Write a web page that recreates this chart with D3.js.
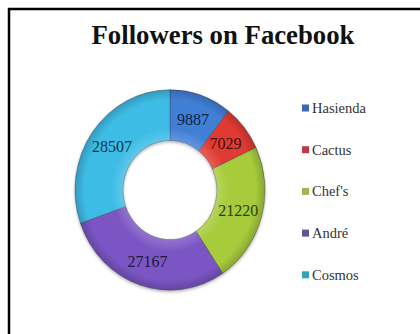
<!DOCTYPE html>
<html>
<head>
<meta charset="utf-8">
<script src="https://cdn.jsdelivr.net/npm/d3@7"></script>
<style>
  html, body { margin: 0; padding: 0; background: #fff; }
  svg { display: block; }
</style>
</head>
<body>
<svg id="chart" width="420" height="334"></svg>
<script>
// Followers per restaurant page
const categories = ["Hasienda", "Cactus", "Chef's", "André", "Cosmos"];
const followers = [9887, 7029, 21220, 27167, 28507];
const sliceColors = ["#3f7fd6", "#e03b33", "#a7cb3b", "#7a55c3", "#3dbce6"];
const legendColors = ["#3d68b4", "#c03a46", "#a3b553", "#5c5a8c", "#33a3b6"];
const title = "Followers on Facebook";

const serif = "\"Liberation Serif\", \"Times New Roman\", serif";

const svg = d3.select("#chart");

// frame (top and left edges)
svg.append("line").attr("x1", 8).attr("y1", 9).attr("x2", 420).attr("y2", 9)
  .attr("stroke", "#000").attr("stroke-width", 2.5);
svg.append("line").attr("x1", 9).attr("y1", 8).attr("x2", 9).attr("y2", 334)
  .attr("stroke", "#000").attr("stroke-width", 2.5);

// title
svg.append("text")
  .attr("x", 223).attr("y", 44)
  .attr("text-anchor", "middle")
  .style("font-family", serif)
  .style("font-weight", "bold")
  .style("font-size", "27px")
  .attr("textLength", 263)
  .attr("lengthAdjust", "spacingAndGlyphs")
  .attr("fill", "#111")
  .text(title);

const data = categories.map((c, i) => ({ name: c, value: followers[i], color: sliceColors[i], legend: legendColors[i] }));

const pie = d3.pie().value(d => d.value).sort(null);
const outerR = 95, innerR = 47;
const arc = d3.arc().innerRadius(innerR).outerRadius(outerR);
const labelArc = d3.arc().innerRadius(71).outerRadius(71);

const defs = svg.append("defs");
// soft bevel highlight on each ring segment
const bevel = defs.append("radialGradient")
  .attr("id", "bevel").attr("gradientUnits", "userSpaceOnUse")
  .attr("cx", 0).attr("cy", 0).attr("r", outerR);
bevel.append("stop").attr("offset", innerR / outerR).attr("stop-color", "#fff").attr("stop-opacity", 0.18);
bevel.append("stop").attr("offset", 0.62).attr("stop-color", "#fff").attr("stop-opacity", 0.0);
bevel.append("stop").attr("offset", 0.9).attr("stop-color", "#000").attr("stop-opacity", 0.0);
bevel.append("stop").attr("offset", 1).attr("stop-color", "#000").attr("stop-opacity", 0.18);

const shadow = defs.append("filter").attr("id", "shadow")
  .attr("x", "-20%").attr("y", "-20%").attr("width", "140%").attr("height", "140%");
shadow.append("feDropShadow").attr("dx", 0).attr("dy", 1.5).attr("stdDeviation", 1.5)
  .attr("flood-color", "#000").attr("flood-opacity", 0.3);

const g = svg.append("g")
  .attr("transform", "translate(170,190) scale(1,1.055)");

const arcs = pie(data);

const ring = g.append("g").attr("filter", "url(#shadow)");
ring.selectAll("path.slice")
  .data(arcs)
  .join("path")
  .attr("class", "slice")
  .attr("d", arc)
  .attr("fill", d => d.data.color)
  .attr("stroke", "#4a4a5a")
  .attr("stroke-opacity", 0.55)
  .attr("stroke-width", 0.8);

g.selectAll("path.bevel")
  .data(arcs)
  .join("path")
  .attr("class", "bevel")
  .attr("d", arc)
  .attr("fill", "url(#bevel)")
  .attr("pointer-events", "none");

// value labels
g.selectAll("text.val")
  .data(arcs)
  .join("text")
  .attr("class", "val")
  .attr("transform", d => {
    const [x, y] = labelArc.centroid(d);
    return `translate(${x},${y}) scale(1,${1 / 1.055})`;
  })
  .attr("text-anchor", "middle")
  .attr("dy", "0.35em")
  .style("font-family", serif)
  .style("font-size", "16px")
  .attr("fill", d => d3.color(d.data.color).darker(3.5))
  .text(d => d.data.value);

// legend
const legend = svg.append("g").attr("transform", "translate(302,108)");
const item = legend.selectAll("g.item")
  .data(data)
  .join("g")
  .attr("class", "item")
  .attr("transform", (d, i) => `translate(0,${i * 41.7})`);

item.append("rect")
  .attr("x", 0).attr("y", -3.5)
  .attr("width", 7).attr("height", 7)
  .attr("fill", d => d.legend);

item.append("text")
  .attr("x", 10).attr("y", 0)
  .attr("dy", "0.35em")
  .style("font-family", serif)
  .style("font-size", "14.5px")
  .attr("fill", "#333")
  .text(d => d.name);
</script>
</body>
</html>
